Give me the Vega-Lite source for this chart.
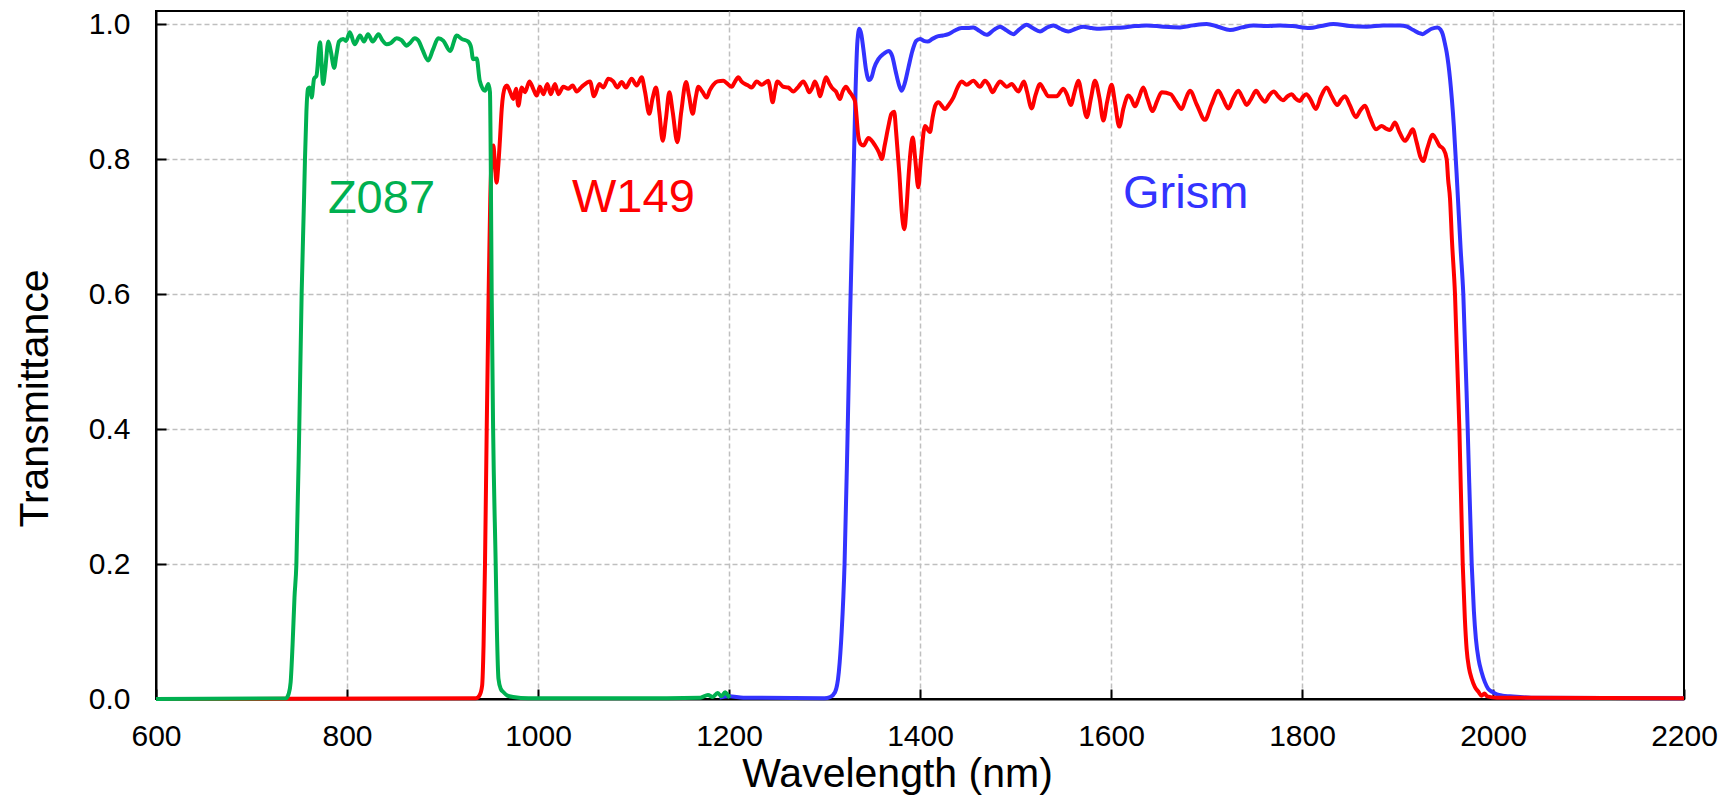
{
  "$schema": "https://vega.github.io/schema/vega-lite/v6.json",
  "width": 1528,
  "height": 688,
  "autosize": {"type": "none"},
  "padding": {"left": 156, "top": 11, "right": 42, "bottom": 97},
  "background": "white",
  "config": {
    "view": {"stroke": "#000000", "strokeWidth": 2},
    "font": "Liberation Sans"
  },
  "datasets": {
    "z087": [
      {"nm":600,"t":0},{"nm":736,"t":0.001},{"nm":739,"t":0.008},{"nm":741,"t":0.025},{"nm":743,"t":0.08},{"nm":745,"t":0.15},{"nm":747,"t":0.2},{"nm":750,"t":0.4},{"nm":752.5,"t":0.6},{"nm":755,"t":0.74},{"nm":756,"t":0.8},{"nm":757.5,"t":0.87},{"nm":759,"t":0.904},{"nm":761,"t":0.906},{"nm":763,"t":0.891},{"nm":765.5,"t":0.919},{"nm":768,"t":0.923},{"nm":771.7,"t":0.973},{"nm":775,"t":0.911},{"nm":777,"t":0.93},{"nm":780.5,"t":0.974},{"nm":783,"t":0.96},{"nm":786.6,"t":0.935},{"nm":789,"t":0.955},{"nm":791.6,"t":0.974},{"nm":796,"t":0.978},{"nm":799,"t":0.975},{"nm":803,"t":0.988},{"nm":808,"t":0.970},{"nm":813.6,"t":0.983},{"nm":817.8,"t":0.974},{"nm":822,"t":0.985},{"nm":827,"t":0.974},{"nm":832.9,"t":0.985},{"nm":837,"t":0.976},{"nm":841.5,"t":0.970},{"nm":846,"t":0.972},{"nm":852,"t":0.979},{"nm":857,"t":0.976},{"nm":862.5,"t":0.968},{"nm":866,"t":0.972},{"nm":871,"t":0.979},{"nm":875,"t":0.975},{"nm":879,"t":0.962},{"nm":885,"t":0.946},{"nm":890,"t":0.962},{"nm":895.6,"t":0.979},{"nm":901,"t":0.975},{"nm":907.9,"t":0.960},{"nm":914.9,"t":0.983},{"nm":920,"t":0.978},{"nm":927,"t":0.974},{"nm":930,"t":0.965},{"nm":932,"t":0.948},{"nm":935.8,"t":0.949},{"nm":939,"t":0.916},{"nm":944.5,"t":0.901},{"nm":948,"t":0.911},{"nm":949.7,"t":0.899},{"nm":950.5,"t":0.8},{"nm":951.5,"t":0.6},{"nm":953,"t":0.4},{"nm":955.7,"t":0.2},{"nm":957,"t":0.1},{"nm":958.6,"t":0.03},{"nm":961,"t":0.015},{"nm":963.9,"t":0.01},{"nm":968,"t":0.005},{"nm":974,"t":0.003},{"nm":990,"t":0.001},{"nm":1100,"t":0.001},{"nm":1170,"t":0.002},{"nm":1178,"t":0.006},{"nm":1183,"t":0.003},{"nm":1188,"t":0.009},{"nm":1192,"t":0.004},{"nm":1196,"t":0.01},{"nm":1199,"t":0.005},{"nm":1201,"t":0.002}
    ],
    "w149": [
      {"nm":600,"t":0},{"nm":935,"t":0.001},{"nm":939,"t":0.006},{"nm":941.5,"t":0.02},{"nm":943,"t":0.08},{"nm":944.5,"t":0.2},{"nm":946.3,"t":0.4},{"nm":948.3,"t":0.6},{"nm":950,"t":0.74},{"nm":951.5,"t":0.8},{"nm":953.3,"t":0.82},{"nm":955,"t":0.79},{"nm":956.6,"t":0.765},{"nm":958.4,"t":0.79},{"nm":960.2,"t":0.83},{"nm":962,"t":0.874},{"nm":965.4,"t":0.906},{"nm":967.5,"t":0.909},{"nm":970.7,"t":0.9},{"nm":974.2,"t":0.889},{"nm":977,"t":0.904},{"nm":979.4,"t":0.879},{"nm":983,"t":0.906},{"nm":986.4,"t":0.899},{"nm":991,"t":0.915},{"nm":995,"t":0.904},{"nm":998.6,"t":0.894},{"nm":1002,"t":0.907},{"nm":1005.6,"t":0.896},{"nm":1009.8,"t":0.911},{"nm":1013.3,"t":0.896},{"nm":1017.8,"t":0.911},{"nm":1021.3,"t":0.896},{"nm":1026.5,"t":0.907},{"nm":1031.8,"t":0.904},{"nm":1036.3,"t":0.909},{"nm":1040.5,"t":0.900},{"nm":1045.8,"t":0.907},{"nm":1054.5,"t":0.915},{"nm":1058.6,"t":0.893},{"nm":1064.2,"t":0.911},{"nm":1068.4,"t":0.906},{"nm":1073.6,"t":0.919},{"nm":1078.8,"t":0.915},{"nm":1083,"t":0.906},{"nm":1087.6,"t":0.914},{"nm":1092,"t":0.906},{"nm":1098,"t":0.919},{"nm":1103.3,"t":0.909},{"nm":1108.6,"t":0.921},{"nm":1112,"t":0.9},{"nm":1116.5,"t":0.867},{"nm":1120,"t":0.89},{"nm":1123.6,"t":0.906},{"nm":1127,"t":0.87},{"nm":1130.6,"t":0.827},{"nm":1134,"t":0.86},{"nm":1137.5,"t":0.899},{"nm":1141,"t":0.87},{"nm":1145.9,"t":0.825},{"nm":1150,"t":0.87},{"nm":1155,"t":0.914},{"nm":1158,"t":0.895},{"nm":1162,"t":0.867},{"nm":1165,"t":0.89},{"nm":1167.9,"t":0.907},{"nm":1172,"t":0.9},{"nm":1176.6,"t":0.891},{"nm":1180,"t":0.902},{"nm":1183.6,"t":0.910},{"nm":1188,"t":0.915},{"nm":1194,"t":0.916},{"nm":1198,"t":0.912},{"nm":1202.8,"t":0.907},{"nm":1206,"t":0.914},{"nm":1209.8,"t":0.921},{"nm":1213,"t":0.915},{"nm":1216.8,"t":0.911},{"nm":1220,"t":0.909},{"nm":1223.7,"t":0.906},{"nm":1229,"t":0.915},{"nm":1234.2,"t":0.910},{"nm":1241.2,"t":0.916},{"nm":1243,"t":0.905},{"nm":1245.7,"t":0.884},{"nm":1248,"t":0.9},{"nm":1250.6,"t":0.915},{"nm":1256.9,"t":0.907},{"nm":1262,"t":0.906},{"nm":1267.3,"t":0.900},{"nm":1272.6,"t":0.907},{"nm":1277.8,"t":0.915},{"nm":1281,"t":0.908},{"nm":1284,"t":0.899},{"nm":1287,"t":0.905},{"nm":1290,"t":0.915},{"nm":1293,"t":0.905},{"nm":1295.3,"t":0.893},{"nm":1298,"t":0.905},{"nm":1301.6,"t":0.921},{"nm":1305,"t":0.912},{"nm":1307.5,"t":0.906},{"nm":1312,"t":0.9},{"nm":1316.2,"t":0.889},{"nm":1319,"t":0.9},{"nm":1322.5,"t":0.907},{"nm":1326,"t":0.9},{"nm":1329.5,"t":0.893},{"nm":1332,"t":0.885},{"nm":1335.4,"t":0.834},{"nm":1338,"t":0.822},{"nm":1340.7,"t":0.820},{"nm":1346,"t":0.831},{"nm":1349,"t":0.828},{"nm":1353,"t":0.820},{"nm":1357,"t":0.81},{"nm":1360,"t":0.800},{"nm":1363,"t":0.82},{"nm":1367,"t":0.849},{"nm":1370,"t":0.867},{"nm":1373,"t":0.870},{"nm":1375,"t":0.84},{"nm":1378.3,"t":0.780},{"nm":1381,"t":0.72},{"nm":1383.6,"t":0.696},{"nm":1386,"t":0.73},{"nm":1387.8,"t":0.770},{"nm":1390,"t":0.81},{"nm":1392.4,"t":0.832},{"nm":1395,"t":0.8},{"nm":1398.2,"t":0.758},{"nm":1401,"t":0.8},{"nm":1405.2,"t":0.849},{"nm":1410.5,"t":0.840},{"nm":1413,"t":0.86},{"nm":1416,"t":0.879},{"nm":1419.2,"t":0.884},{"nm":1426.2,"t":0.874},{"nm":1430,"t":0.88},{"nm":1434.9,"t":0.891},{"nm":1439,"t":0.905},{"nm":1443.6,"t":0.915},{"nm":1448.9,"t":0.910},{"nm":1455.8,"t":0.916},{"nm":1462.8,"t":0.907},{"nm":1468,"t":0.916},{"nm":1472,"t":0.91},{"nm":1476.1,"t":0.899},{"nm":1480,"t":0.908},{"nm":1483.8,"t":0.915},{"nm":1490.8,"t":0.907},{"nm":1496,"t":0.911},{"nm":1503,"t":0.900},{"nm":1508.9,"t":0.915},{"nm":1512,"t":0.9},{"nm":1516.9,"t":0.875},{"nm":1521,"t":0.895},{"nm":1525.7,"t":0.911},{"nm":1530,"t":0.902},{"nm":1534.4,"t":0.893},{"nm":1543.1,"t":0.893},{"nm":1550.1,"t":0.904},{"nm":1554,"t":0.895},{"nm":1557.8,"t":0.880},{"nm":1562,"t":0.9},{"nm":1565.8,"t":0.916},{"nm":1570,"t":0.89},{"nm":1574.6,"t":0.862},{"nm":1579,"t":0.89},{"nm":1583.2,"t":0.916},{"nm":1588,"t":0.89},{"nm":1592,"t":0.857},{"nm":1596,"t":0.885},{"nm":1600.7,"t":0.910},{"nm":1604,"t":0.885},{"nm":1608.7,"t":0.848},{"nm":1613,"t":0.875},{"nm":1618.1,"t":0.894},{"nm":1621,"t":0.89},{"nm":1625.1,"t":0.878},{"nm":1629,"t":0.89},{"nm":1633.8,"t":0.906},{"nm":1638,"t":0.89},{"nm":1643.7,"t":0.871},{"nm":1648,"t":0.885},{"nm":1653.1,"t":0.899},{"nm":1662.5,"t":0.896},{"nm":1668,"t":0.885},{"nm":1674,"t":0.874},{"nm":1678,"t":0.888},{"nm":1682.7,"t":0.901},{"nm":1690,"t":0.88},{"nm":1698.4,"t":0.858},{"nm":1705,"t":0.88},{"nm":1712.4,"t":0.901},{"nm":1717,"t":0.89},{"nm":1722.9,"t":0.875},{"nm":1728,"t":0.89},{"nm":1733.3,"t":0.901},{"nm":1738,"t":0.89},{"nm":1742.1,"t":0.880},{"nm":1747,"t":0.89},{"nm":1752,"t":0.901},{"nm":1756,"t":0.893},{"nm":1761.3,"t":0.885},{"nm":1766,"t":0.895},{"nm":1770.5,"t":0.900},{"nm":1775,"t":0.893},{"nm":1780,"t":0.887},{"nm":1785,"t":0.893},{"nm":1789.2,"t":0.896},{"nm":1793,"t":0.89},{"nm":1797.9,"t":0.886},{"nm":1801,"t":0.892},{"nm":1804.5,"t":0.896},{"nm":1809,"t":0.888},{"nm":1814.5,"t":0.874},{"nm":1820,"t":0.893},{"nm":1825.8,"t":0.906},{"nm":1831,"t":0.893},{"nm":1837,"t":0.880},{"nm":1841,"t":0.888},{"nm":1845,"t":0.893},{"nm":1850,"t":0.88},{"nm":1856.5,"t":0.862},{"nm":1861,"t":0.872},{"nm":1866,"t":0.879},{"nm":1871,"t":0.862},{"nm":1877.5,"t":0.844},{"nm":1883.4,"t":0.849},{"nm":1888,"t":0.845},{"nm":1892.1,"t":0.843},{"nm":1897.4,"t":0.854},{"nm":1902,"t":0.84},{"nm":1907.9,"t":0.827},{"nm":1912,"t":0.835},{"nm":1915.9,"t":0.844},{"nm":1920,"t":0.825},{"nm":1924,"t":0.803},{"nm":1927,"t":0.797},{"nm":1931,"t":0.815},{"nm":1936.9,"t":0.836},{"nm":1940,"t":0.83},{"nm":1943.8,"t":0.820},{"nm":1948,"t":0.815},{"nm":1951.5,"t":0.800},{"nm":1953,"t":0.77},{"nm":1955,"t":0.741},{"nm":1957,"t":0.68},{"nm":1960.2,"t":0.600},{"nm":1964.8,"t":0.400},{"nm":1968.3,"t":0.2},{"nm":1970.5,"t":0.12},{"nm":1972.4,"t":0.074},{"nm":1975,"t":0.045},{"nm":1977.7,"t":0.030},{"nm":1981,"t":0.018},{"nm":1984.6,"t":0.011},{"nm":1988,"t":0.005},{"nm":1991,"t":0.008},{"nm":1994,"t":0.004},{"nm":2004,"t":0.002},{"nm":2200,"t":0.001}
    ],
    "grism": [
      {"nm":1190,"t":0.002},{"nm":1200,"t":0.004},{"nm":1215,"t":0.002},{"nm":1300,"t":0.001},{"nm":1306,"t":0.003},{"nm":1311,"t":0.01},{"nm":1315,"t":0.04},{"nm":1318,"t":0.1},{"nm":1321,"t":0.2},{"nm":1324,"t":0.38},{"nm":1326.5,"t":0.55},{"nm":1328.5,"t":0.667},{"nm":1330.5,"t":0.78},{"nm":1332.5,"t":0.9},{"nm":1334.5,"t":0.975},{"nm":1336.5,"t":0.993},{"nm":1338.5,"t":0.985},{"nm":1340.7,"t":0.963},{"nm":1343.5,"t":0.932},{"nm":1346.5,"t":0.917},{"nm":1349.5,"t":0.922},{"nm":1352,"t":0.935},{"nm":1356.4,"t":0.948},{"nm":1362,"t":0.956},{"nm":1367.5,"t":0.96},{"nm":1371,"t":0.952},{"nm":1374.5,"t":0.93},{"nm":1378,"t":0.91},{"nm":1380.8,"t":0.901},{"nm":1384,"t":0.912},{"nm":1387.8,"t":0.935},{"nm":1392,"t":0.96},{"nm":1396,"t":0.975},{"nm":1400,"t":0.978},{"nm":1404,"t":0.975},{"nm":1408,"t":0.974},{"nm":1413,"t":0.978},{"nm":1419.2,"t":0.982},{"nm":1424,"t":0.983},{"nm":1429.7,"t":0.985},{"nm":1436,"t":0.99},{"nm":1443.6,"t":0.994},{"nm":1450,"t":0.994},{"nm":1455.8,"t":0.995},{"nm":1462,"t":0.99},{"nm":1469.8,"t":0.984},{"nm":1477,"t":0.991},{"nm":1483.8,"t":0.996},{"nm":1490,"t":0.991},{"nm":1497.7,"t":0.985},{"nm":1504,"t":0.992},{"nm":1511.7,"t":0.999},{"nm":1518,"t":0.994},{"nm":1525.7,"t":0.989},{"nm":1532,"t":0.994},{"nm":1539.6,"t":0.998},{"nm":1547,"t":0.993},{"nm":1555.3,"t":0.989},{"nm":1563,"t":0.993},{"nm":1571,"t":0.996},{"nm":1580,"t":0.994},{"nm":1588.5,"t":0.993},{"nm":1600,"t":0.994},{"nm":1612.9,"t":0.995},{"nm":1625,"t":0.997},{"nm":1637.4,"t":0.998},{"nm":1655,"t":0.996},{"nm":1672.3,"t":0.995},{"nm":1686,"t":0.998},{"nm":1700.2,"t":1.0},{"nm":1712,"t":0.996},{"nm":1724.6,"t":0.991},{"nm":1737,"t":0.995},{"nm":1749,"t":0.998},{"nm":1763,"t":0.997},{"nm":1777,"t":0.998},{"nm":1790,"t":0.997},{"nm":1808,"t":0.994},{"nm":1820,"t":0.997},{"nm":1832.8,"t":1.0},{"nm":1850,"t":0.997},{"nm":1867.8,"t":0.996},{"nm":1885,"t":0.998},{"nm":1902.6,"t":0.998},{"nm":1910,"t":0.996},{"nm":1916.6,"t":0.991},{"nm":1922,"t":0.987},{"nm":1926.4,"t":0.985},{"nm":1931,"t":0.989},{"nm":1935.8,"t":0.993},{"nm":1941.7,"t":0.995},{"nm":1945,"t":0.992},{"nm":1947.3,"t":0.985},{"nm":1949.5,"t":0.972},{"nm":1951.5,"t":0.958},{"nm":1955,"t":0.919},{"nm":1959,"t":0.849},{"nm":1962.6,"t":0.76},{"nm":1966.1,"t":0.667},{"nm":1968.9,"t":0.6},{"nm":1973.5,"t":0.4},{"nm":1977.7,"t":0.2},{"nm":1980,"t":0.13},{"nm":1982.1,"t":0.089},{"nm":1985,"t":0.058},{"nm":1988,"t":0.04},{"nm":1991.5,"t":0.025},{"nm":1995,"t":0.015},{"nm":2000,"t":0.01},{"nm":2004,"t":0.007},{"nm":2010,"t":0.005},{"nm":2017.8,"t":0.004},{"nm":2040,"t":0.002},{"nm":2200,"t":0.001}
    ],
    "labels": [
      {"label":"Z087","nm":780,"t":0.72},
      {"label":"W149","nm":1035.6,"t":0.7215},
      {"label":"Grism","nm":1612.6,"t":0.727}
    ]
  },
  "encoding": {
    "x": {
      "field": "nm", "type": "quantitative",
      "scale": {"domain": [600, 2200], "nice": false, "zero": false},
      "axis": {
        "values": [600, 800, 1000, 1200, 1400, 1600, 1800, 2000, 2200],
        "format": "d",
        "tickSize": -10, "tickWidth": 2, "tickColor": "#000000",
        "domainColor": "#000000", "domainWidth": 2,
        "grid": true, "gridColor": "#bfbfbf", "gridDash": [5, 3], "gridWidth": 1.5,
        "gridOpacity": {"condition": {"test": "datum.value == 600 || datum.value == 2200", "value": 0}, "value": 1},
        "labelFont": "Liberation Sans", "labelFontSize": 30, "labelColor": "#000000",
        "labelBaseline": "alphabetic", "labelPadding": 56, "labelFlush": false, "labelOverlap": false,
        "title": "Wavelength (nm)", "titleFont": "Liberation Sans", "titleFontSize": 41,
        "titleFontWeight": "normal", "titleColor": "#000000",
        "titleX": 741, "titleY": 87, "titleBaseline": "alphabetic", "titleAlign": "center"
      }
    },
    "y": {
      "field": "t", "type": "quantitative",
      "scale": {"domain": [0, 1.0193], "nice": false, "zero": true},
      "axis": {
        "values": [0, 0.2, 0.4, 0.6, 0.8, 1.0],
        "format": ".1f",
        "tickSize": -10, "tickWidth": 2, "tickColor": "#000000",
        "domainColor": "#000000", "domainWidth": 2,
        "grid": true, "gridColor": "#bfbfbf", "gridDash": [5, 3], "gridWidth": 1.5,
        "gridOpacity": {"condition": {"test": "datum.value == 0", "value": 0}, "value": 1},
        "labelFont": "Liberation Sans", "labelFontSize": 30, "labelColor": "#000000",
        "labelAlign": "right", "labelBaseline": "middle", "labelPadding": 36,
        "labelFlush": false, "labelOverlap": false,
        "title": "Transmittance", "titleFont": "Liberation Sans", "titleFontSize": 41,
        "titleFontWeight": "normal", "titleColor": "#000000", "titleAngle": -90,
        "titleX": -109, "titleY": 387, "titleBaseline": "alphabetic", "titleAlign": "center"
      }
    }
  },
  "layer": [
    {
      "data": {"name": "grism"},
      "mark": {"type": "line", "color": "#3333ff", "strokeWidth": 4, "interpolate": "monotone"}
    },
    {
      "data": {"name": "w149"},
      "mark": {"type": "line", "color": "#ff0000", "strokeWidth": 4, "interpolate": "monotone"}
    },
    {
      "data": {"name": "z087"},
      "mark": {"type": "line", "color": "#00b050", "strokeWidth": 4, "interpolate": "monotone"}
    },
    {
      "data": {"name": "labels"},
      "mark": {"type": "text", "align": "left", "baseline": "alphabetic", "font": "Liberation Sans", "fontSize": 47},
      "encoding": {
        "text": {"field": "label"},
        "color": {
          "field": "label", "type": "nominal",
          "scale": {"domain": ["Z087", "W149", "Grism"], "range": ["#00b050", "#ff0000", "#3333ff"]},
          "legend": null
        }
      }
    }
  ]
}
